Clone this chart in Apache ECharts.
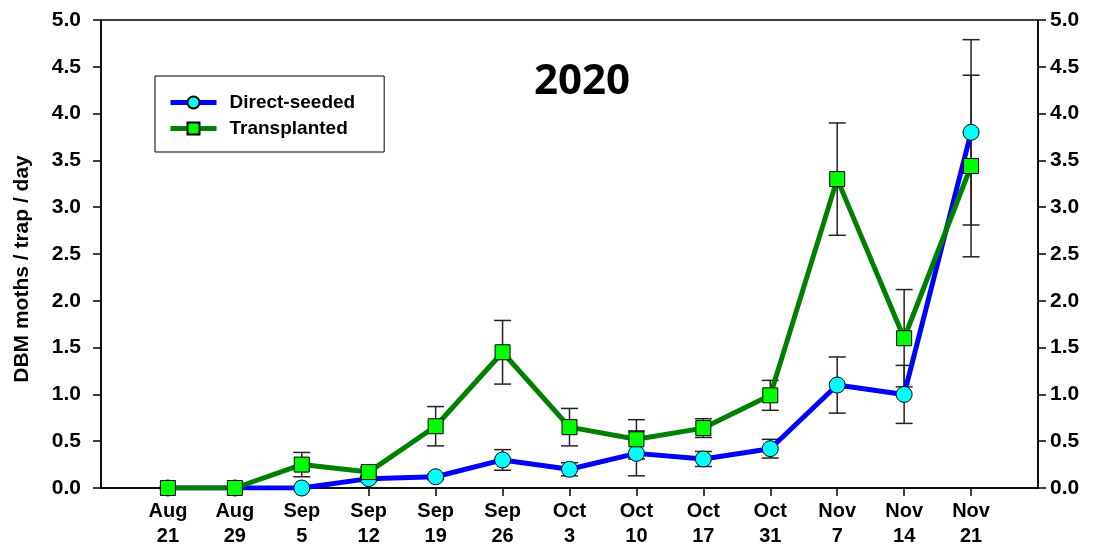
<!DOCTYPE html>
<html>
<head>
<meta charset="utf-8">
<script src="https://cdn.jsdelivr.net/npm/echarts@6/dist/echarts.min.js"></script>
<style>
html,body{margin:0;padding:0;background:#fff;}
#chart{width:1101px;height:549px;}
</style>
</head>
<body>
<div id="chart"></div>
<script>
const categories = ['Aug\n21','Aug\n29','Sep\n5','Sep\n12','Sep\n19','Sep\n26','Oct\n3','Oct\n10','Oct\n17','Oct\n31','Nov\n7','Nov\n14','Nov\n21'];
const directSeeded = [0, 0, 0, 0.1, 0.12, 0.3, 0.2, 0.37, 0.31, 0.42, 1.1, 1.0, 3.8];
const directErr =    [0, 0, 0, 0.03, 0.03, 0.11, 0.07, 0.24, 0.08, 0.1, 0.3, 0.31, 0.99];
const transplanted = [0, 0, 0.25, 0.17, 0.66, 1.45, 0.65, 0.52, 0.64, 0.99, 3.3, 1.6, 3.44];
const transErr =     [0, 0, 0.13, 0.05, 0.21, 0.34, 0.2, 0.21, 0.1, 0.16, 0.6, 0.52, 0.97];
const yTicks = [0, 0.5, 1, 1.5, 2, 2.5, 3, 3.5, 4, 4.5, 5];
const yTitle = 'DBM moths / trap / day';
const chartTitle = '2020';

const FONT = 'Liberation Sans, Arial, sans-serif';
const chart = echarts.init(document.getElementById('chart'));

function pts(vals){ return vals.map((v,i)=>[i+1, v]); }
function errData(vals, errs){ return vals.map((v,i)=>[i+1, v-errs[i], v+errs[i]]).filter((d,i)=>errs[i]>0); }

function errRender(params, api){
  const x = api.value(0);
  const lo = api.coord([x, api.value(1)]);
  const hi = api.coord([x, api.value(2)]);
  const w = 8.5;
  const st = {stroke:'#222', lineWidth:1.5, fill:null};
  return {type:'group', children:[
    {type:'line', shape:{x1:lo[0], y1:lo[1], x2:hi[0], y2:hi[1]}, style:st},
    {type:'line', shape:{x1:lo[0]-w, y1:lo[1], x2:lo[0]+w, y2:lo[1]}, style:st},
    {type:'line', shape:{x1:hi[0]-w, y1:hi[1], x2:hi[0]+w, y2:hi[1]}, style:st}
  ]};
}

function yAxisCfg(pos, margin){
  return {
    type:'value', min:yTicks[0], max:yTicks[yTicks.length-1], interval:0.5, position:pos,
    axisLine:{show:true, lineStyle:{color:'#000', width:1.5}},
    axisTick:{show:true, inside:false, length:8, lineStyle:{color:'#000', width:1.5}},
    splitLine:{show:false},
    axisLabel:{color:'#000', fontFamily:FONT, fontWeight:'bold', fontSize:21, margin:margin,
      formatter:(v)=>v.toFixed(1)}
  };
}

chart.setOption({
  animation:false,
  backgroundColor:'#fff',
  title:{text:chartTitle, left:577, top:56, textAlign:'center',
    textStyle:{fontFamily:'Open Sans, sans-serif', fontWeight:'bold', fontSize:42, color:'#000'}},
  graphic:[{
    type:'text', x:22, y:269, rotation:Math.PI/2,
    style:{text:yTitle, fill:'#000', font:'bold 21px ' + FONT, align:'center', verticalAlign:'middle'}
  }],
  legend:{
    left:155, top:76, orient:'vertical',
    data:['Direct-seeded','Transplanted'],
    itemWidth:46, itemHeight:15, itemGap:7,
    padding:[17, 29, 14, 13],
    borderColor:'#000', borderWidth:1,
    lineStyle:{width:5},
    textStyle:{fontFamily:FONT, fontWeight:'bold', fontSize:19, color:'#000', padding:[0,0,0,8]}
  },
  grid:{left:101, right:63, top:20, bottom:60, show:true, borderColor:'#000', borderWidth:1.5, backgroundColor:'transparent'},
  xAxis:{
    type:'value', min:0, max:categories.length+1, interval:1,
    axisLine:{show:true, lineStyle:{color:'#000', width:1.5}},
    axisTick:{show:true, inside:false, length:8, lineStyle:{color:'#000', width:1.5}},
    splitLine:{show:false},
    axisLabel:{color:'#000', fontFamily:FONT, fontWeight:'bold', fontSize:20, lineHeight:25, margin:11,
      formatter:(v)=> categories[v-1] || '', showMinLabel:false, showMaxLabel:false}
  },
  yAxis:[ yAxisCfg('left', 20), yAxisCfg('right', 12) ],
  series:[
    {type:'custom', name:'errD', renderItem:errRender, data:errData(directSeeded, directErr), z:1, silent:true},
    {type:'custom', name:'errT', renderItem:errRender, data:errData(transplanted, transErr), z:1, silent:true},
    {type:'line', name:'Direct-seeded', data:pts(directSeeded), z:3,
      symbol:'circle', symbolSize:16, showAllSymbol:true,
      lineStyle:{color:'#0000ff', width:5},
      itemStyle:{color:'#00ffff', borderColor:'#000', borderWidth:1}},
    {type:'line', name:'Transplanted', data:pts(transplanted), z:4,
      symbol:'rect', symbolSize:15, showAllSymbol:true,
      lineStyle:{color:'#008000', width:5},
      itemStyle:{color:'#00ff00', borderColor:'#000', borderWidth:1}}
  ]
});
</script>
</body>
</html>
